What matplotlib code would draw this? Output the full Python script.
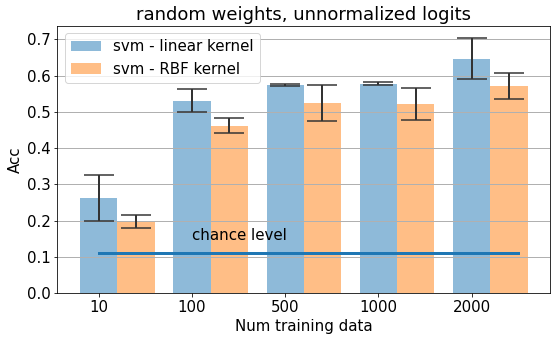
import matplotlib
matplotlib.use('Agg')
import matplotlib.pyplot as plt
import numpy as np

# values
n_train = ['10', '100', '500', '1000', '2000']
acc_linear = [0.263, 0.531, 0.575, 0.578, 0.647]
err_linear = [0.063, 0.032, 0.003, 0.004, 0.056]
acc_rbf = [0.199, 0.462, 0.525, 0.522, 0.572]
err_rbf = [0.018, 0.020, 0.049, 0.044, 0.036]
chance = 0.11

dpi = 72
fig = plt.figure(figsize=(558 / dpi, 341 / dpi), dpi=dpi)
ax = fig.add_axes([0.103, 0.14, 0.883, 0.784])

x = np.arange(len(n_train))
w = 0.4
ekw = dict(ecolor='#333333', elinewidth=2, capsize=15, capthick=1.5)
ax.bar(x, acc_linear, w, yerr=err_linear, color='C0', alpha=0.5,
       label='svm - linear kernel', error_kw=ekw)
ax.bar(x + w, acc_rbf, w, yerr=err_rbf, color='C1', alpha=0.5,
       label='svm - RBF kernel', error_kw=ekw)

ax.plot([0, 4.5], [chance, chance], color='C0', linewidth=3)
ax.text(1, 0.148, 'chance level', fontsize=15)

ax.set_xticks(x)
ax.set_xticklabels(n_train)
ax.tick_params(labelsize=15)
ax.set_ylim(0, 0.737)
ax.grid(axis='y', color='#b0b0b0', linewidth=1)
ax.set_xlabel('Num training data', fontsize=15)
ax.set_ylabel('Acc', fontsize=15)
ax.set_title('random weights, unnormalized logits', fontsize=18)
ax.legend(loc='upper left', fontsize=15)

fig.savefig('out.png', dpi=dpi)
